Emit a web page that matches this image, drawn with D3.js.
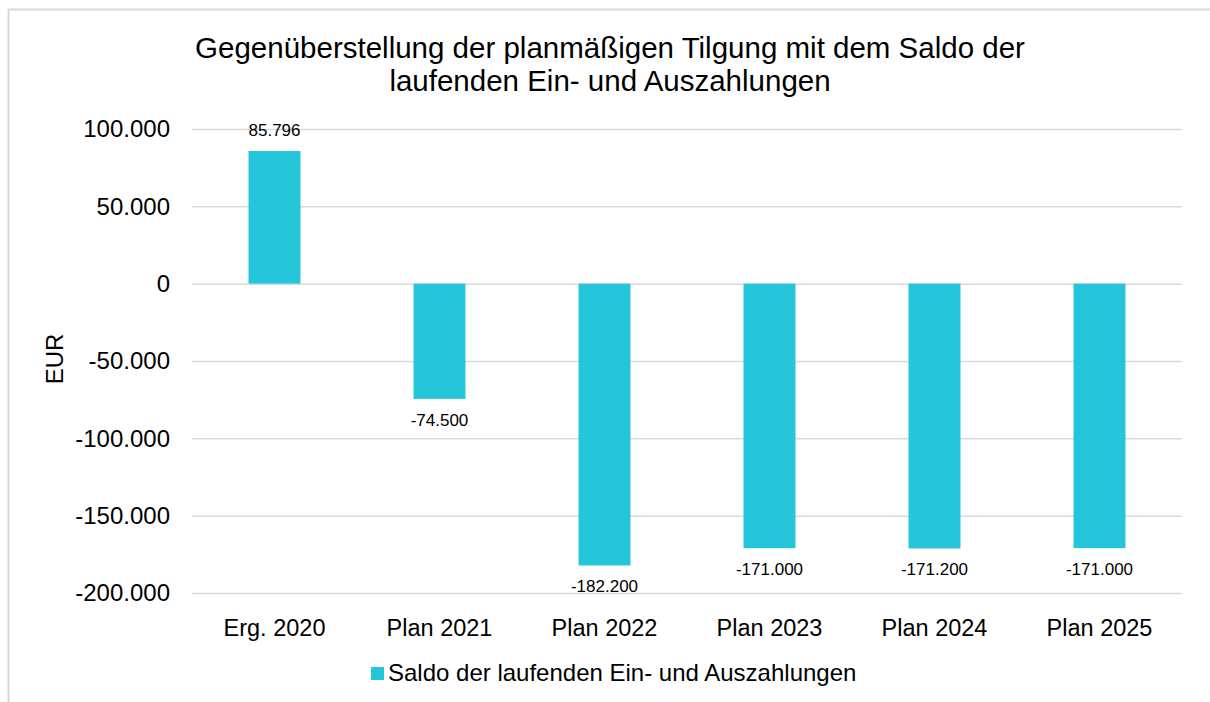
<!DOCTYPE html>
<html>
<head>
<meta charset="utf-8">
<script src="https://cdn.jsdelivr.net/npm/d3@7"></script>
<style>
  body { margin: 0; background: #fff; }
  svg text { font-family: "Liberation Sans", Arial, Helvetica, sans-serif; fill: #000; }
</style>
</head>
<body>
<div id="chart"></div>
<script>
// data
var categories = ["Erg. 2020", "Plan 2021", "Plan 2022", "Plan 2023", "Plan 2024", "Plan 2025"];
var values = [85796, -74500, -182200, -171000, -171200, -171000];
var yTicks = [100000, 50000, 0, -50000, -100000, -150000, -200000];
var seriesName = "Saldo der laufenden Ein- und Auszahlungen";
var titleLines = ["Gegenüberstellung der planmäßigen Tilgung mit dem Saldo der", "laufenden Ein- und Auszahlungen"];

var W = 1210, H = 702;
var margin = {top: 129, right: 28, bottom: 109, left: 192};
var width = W - margin.left - margin.right,
    height = H - margin.top - margin.bottom;
var barColor = "#26c6da";

// german number format: dot as thousands separator
var fmt = d3.formatLocale({decimal: ",", thousands: ".", grouping: [3], currency: ["", " €"], minus: "-"}).format(",d");

var svg = d3.select("#chart")
  .append("svg")
    .attr("width", W)
    .attr("height", H);

// outer chart border
svg.append("rect")
  .attr("x", 8.5).attr("y", 9.5)
  .attr("width", W + 20).attr("height", H + 20)
  .attr("fill", "none")
  .attr("stroke", "#d9d9d9")
  .attr("stroke-width", 2);

// title
svg.append("text")
  .attr("text-anchor", "middle")
  .attr("font-size", 29.5)
  .selectAll("tspan")
  .data(titleLines)
  .enter()
  .append("tspan")
    .attr("x", 610)
    .attr("y", function(d, i) { return 58 + i * 33; })
    .text(function(d) { return d; });

var g = svg.append("g")
  .attr("transform", "translate(" + margin.left + "," + margin.top + ")");

var x = d3.scaleBand()
  .domain(categories)
  .range([0, width])
  .paddingInner(0.685)
  .paddingOuter(0.3425);

var y = d3.scaleLinear()
  .domain([-200000, 100000])
  .range([height, 0]);

// grid lines + y labels
var yAxis = d3.axisLeft(y)
  .tickValues(yTicks)
  .tickSize(-width)
  .tickPadding(22)
  .tickFormat(fmt);

g.append("g")
  .call(yAxis)
  .call(function(s) {
    s.select(".domain").remove();
    s.selectAll(".tick line").attr("stroke", "#d9d9d9").attr("stroke-width", 1.5);
    s.selectAll(".tick text").attr("font-size", 24).attr("fill", "#000");
  });

// category labels
var xAxis = d3.axisBottom(x).tickSize(0).tickPadding(26);
g.append("g")
  .attr("transform", "translate(0," + height + ")")
  .call(xAxis)
  .call(function(s) {
    s.select(".domain").remove();
    s.selectAll(".tick text").attr("font-size", 23.5).attr("fill", "#000");
  });

// bars
g.selectAll(".bar")
  .data(values)
  .enter()
  .append("rect")
    .attr("class", "bar")
    .attr("x", function(d, i) { return x(categories[i]); })
    .attr("width", x.bandwidth())
    .attr("y", function(d) { return y(Math.max(0, d)); })
    .attr("height", function(d) { return Math.abs(y(d) - y(0)); })
    .attr("fill", barColor);

// value labels
g.selectAll(".lbl")
  .data(values)
  .enter()
  .append("text")
    .attr("class", "lbl")
    .attr("text-anchor", "middle")
    .attr("font-size", 17)
    .attr("x", function(d, i) { return x(categories[i]) + x.bandwidth() / 2; })
    .attr("y", function(d) { return d >= 0 ? y(d) - 15 : y(d) + 27; })
    .text(function(d) { return fmt(d); });

// y axis title
svg.append("text")
  .attr("transform", "translate(63,359) rotate(-90)")
  .attr("text-anchor", "middle")
  .attr("font-size", 24)
  .text("EUR");

// legend
var legend = svg.append("g").attr("transform", "translate(371,667)");
legend.append("rect")
  .attr("width", 13).attr("height", 13)
  .attr("fill", barColor);
legend.append("text")
  .attr("x", 17).attr("y", 14)
  .attr("font-size", 24)
  .text(seriesName);
</script>
</body>
</html>
